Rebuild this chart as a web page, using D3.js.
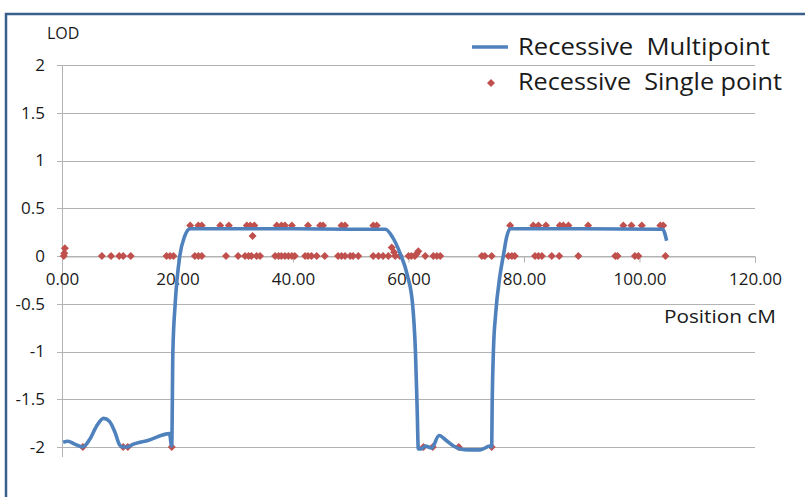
<!DOCTYPE html>
<html>
<head>
<meta charset="utf-8">
<script src="https://cdn.jsdelivr.net/npm/d3@7"></script>
<style>
  html, body { margin: 0; padding: 0; background: #fff; }
  svg { display: block; }
  text { font-family: "Open Sans", "Noto Sans", sans-serif; fill: #1a1a1a; }
</style>
</head>
<body>
<svg id="chart" width="805" height="497"></svg>
<script>
// Multipoint LOD curve (position cM, LOD)
const multiPos = [0.2, 1.0, 2.2, 3.6, 4.8, 6.0, 7.2, 8.2, 9.2, 10.0, 10.6, 11.4, 12.0, 15.0, 18.6, 19.0,
  19.2, 19.6, 20.4, 21.2, 22.2, 30.0, 40.0, 50.0, 56.0, 57.2, 58.6, 59.8, 60.7, 61.2, 61.5, 61.7,
  62.2, 62.9, 64.0, 65.3, 66.5, 67.8, 68.9, 70.5, 72.4, 74.1, 74.4, 74.5, 74.7, 75.1, 75.8, 76.5,
  77.0, 77.6, 90.0, 104.0, 104.7];
const multiLod = [-1.95, -1.94, -1.97, -2.0, -1.92, -1.78, -1.70, -1.73, -1.85, -1.98, -2.0, -2.0, -1.98, -1.93, -1.86, -1.99,
  -1.0, -0.5, 0.0, 0.2, 0.285, 0.285, 0.285, 0.28, 0.28, 0.2, 0.02, -0.2, -0.5, -1.0, -1.6, -2.02,
  -2.02, -1.99, -2.01, -1.88, -1.93, -1.99, -2.02, -2.03, -2.03, -1.99, -2.0, -1.5, -1.0, -0.6, -0.22, 0.03,
  0.2, 0.285, 0.285, 0.28, 0.16];

// Single point LOD scores (position cM, LOD)
const singlePos = [
  0.3, 0.4, 0.5, 6.9, 8.5, 9.9, 10.6, 11.9, 18.1, 18.7, 19.3, 23.0, 23.6, 24.2, 28.4, 30.5, 31.7, 32.3,
  32.8, 33.7, 34.3, 36.9, 37.5, 38.0, 38.6, 39.2, 39.8, 40.3, 42.1, 42.6, 43.2, 44.1, 45.5, 47.8,
  48.4, 49.0, 49.9, 50.4, 51.3, 53.9, 54.8, 55.6, 56.5, 57.1, 57.5, 57.7, 58.5, 60.0, 60.5, 61.1,
  61.4, 61.7, 62.9, 64.3, 64.9, 65.5, 72.7, 73.2, 74.4, 77.3, 77.9, 78.4, 81.9, 82.5, 83.1, 84.8,
  86.1, 89.4, 95.8, 96.2, 99.2, 99.8, 104.5,
  33.0,
  22.2, 23.6, 24.2, 27.4, 28.9, 32.0, 32.6, 33.3, 37.2, 38.0, 38.6, 39.8, 42.6, 44.7, 45.2, 48.4,
  49.0, 53.9, 54.5, 77.6, 81.6, 82.5, 83.8, 86.2, 86.8, 87.7, 91.1, 97.2, 98.6, 100.4, 103.6, 104.1,
  3.6, 10.6, 11.4, 19.0, 62.6, 64.2, 68.7, 74.4];
const singleLod = [
  0.0, 0.03, 0.08, 0, 0, 0, 0, 0, 0, 0, 0, 0, 0, 0, 0, 0, 0, 0,
  0, 0, 0, 0, 0, 0, 0, 0, 0, 0, 0, 0, 0, 0, 0, 0,
  0, 0, 0, 0, 0, 0, 0, 0, 0, 0.09, 0.04, 0, 0, 0, 0, 0,
  0.02, 0.05, 0, 0, 0, 0, 0, 0, 0, 0, 0, 0, 0, 0, 0, 0,
  0, 0, 0, 0, 0, 0, 0,
  0.21,
  0.32, 0.32, 0.32, 0.32, 0.32, 0.32, 0.32, 0.32, 0.32, 0.32, 0.32, 0.32, 0.32, 0.32, 0.32, 0.32,
  0.32, 0.32, 0.32, 0.32, 0.32, 0.32, 0.32, 0.32, 0.32, 0.32, 0.32, 0.32, 0.32, 0.32, 0.32, 0.32,
  -2.0, -2.0, -2.0, -2.0, -2.0, -2.0, -2.0, -2.0];

// Axis ticks
const xTicks = [0, 20, 40, 60, 80, 100, 120];
const yTicks = [2, 1.5, 1, 0.5, 0, -0.5, -1, -1.5, -2];
const legendLabels = ["Recessive  Multipoint", "Recessive  Single point"];

const lineColor = "#4F81BD";
const pointColor = "#C0504D";
const gridColor = "#b3b3b3";
const tickFont = "17px";

const svg = d3.select("#chart");

const x = d3.scaleLinear().domain([0, 120]).range([62, 755]);
const y = d3.scaleLinear().domain([-2, 2]).range([447, 65]);

// chart area border (left and top edges visible)
svg.append("rect")
  .attr("x", 6).attr("y", 14).attr("width", 840).attr("height", 520)
  .attr("fill", "none").attr("stroke", "#3b5f8d").attr("stroke-width", 2.5);

// horizontal gridlines
svg.append("g").selectAll("line").data(yTicks).join("line")
  .attr("x1", x(0) - 5).attr("x2", x(120))
  .attr("y1", d => Math.round(y(d)) + 0.5).attr("y2", d => Math.round(y(d)) + 0.5)
  .attr("stroke", gridColor).attr("stroke-width", 1);

// vertical axis line
svg.append("line")
  .attr("x1", Math.round(x(0)) + 0.5).attr("x2", Math.round(x(0)) + 0.5)
  .attr("y1", y(2)).attr("y2", y(-2) + 10)
  .attr("stroke", gridColor).attr("stroke-width", 1);

// horizontal axis at LOD 0 with tick marks
const xAxis = d3.axisBottom(x).tickValues(xTicks).tickSize(6).tickFormat(d => d3.format(".2f")(d));
const gx = svg.append("g")
  .attr("transform", `translate(0,${Math.round(y(0)) + 0.5})`)
  .call(xAxis);
gx.select(".domain").attr("stroke", gridColor);
gx.selectAll(".tick line").attr("stroke", gridColor);
gx.selectAll(".tick text")
  .attr("y", 16).attr("dy", "0.71em")
  .style("font-size", tickFont)
  .style("font-family", "'Open Sans', 'Noto Sans', sans-serif")
  .attr("fill", "#1a1a1a");

// vertical axis labels (plain hyphen for negatives)
svg.append("g").selectAll("text").data(yTicks).join("text")
  .attr("x", 45).attr("y", d => y(d)).attr("dy", "0.35em")
  .attr("text-anchor", "end")
  .style("font-size", tickFont)
  .text(d => String(d));

// axis titles
svg.append("text").attr("x", 47).attr("y", 39).style("font-size", "16px").text("LOD");
svg.append("text").attr("x", 664).attr("y", 323).style("font-size", "19px")
  .attr("textLength", 112).attr("lengthAdjust", "spacingAndGlyphs").text("Position cM");

// multipoint curve
const line = d3.line()
  .x(d => x(d[0])).y(d => y(d[1]))
  .curve(d3.curveMonotoneX);

// single point markers
const diamond = "M0,-4L4,0L0,4L-4,0Z";
svg.append("g").selectAll("path").data(singlePos.map((p, i) => [p, singleLod[i]])).join("path")
  .attr("d", diamond)
  .attr("transform", d => `translate(${x(d[0])},${y(d[1])})`)
  .attr("fill", pointColor);

svg.append("path")
  .datum(multiPos.map((p, i) => [p, multiLod[i]]))
  .attr("d", line)
  .attr("fill", "none").attr("stroke", lineColor)
  .attr("stroke-width", 3.6).attr("stroke-linejoin", "round");

// legend
const lg = svg.append("g");
lg.append("line").attr("x1", 472).attr("x2", 508).attr("y1", 47).attr("y2", 47)
  .attr("stroke", lineColor).attr("stroke-width", 3.6);
lg.append("path").attr("d", diamond).attr("transform", "translate(491,83)").attr("fill", pointColor);
lg.append("text").attr("x", 518).attr("y", 55).style("font-size", "23px")
  .attr("textLength", 252).attr("lengthAdjust", "spacingAndGlyphs")
  .style("white-space", "pre").text(legendLabels[0]);
lg.append("text").attr("x", 518).attr("y", 90).style("font-size", "23px")
  .attr("textLength", 264).attr("lengthAdjust", "spacingAndGlyphs")
  .style("white-space", "pre").text(legendLabels[1]);
</script>
</body>
</html>
